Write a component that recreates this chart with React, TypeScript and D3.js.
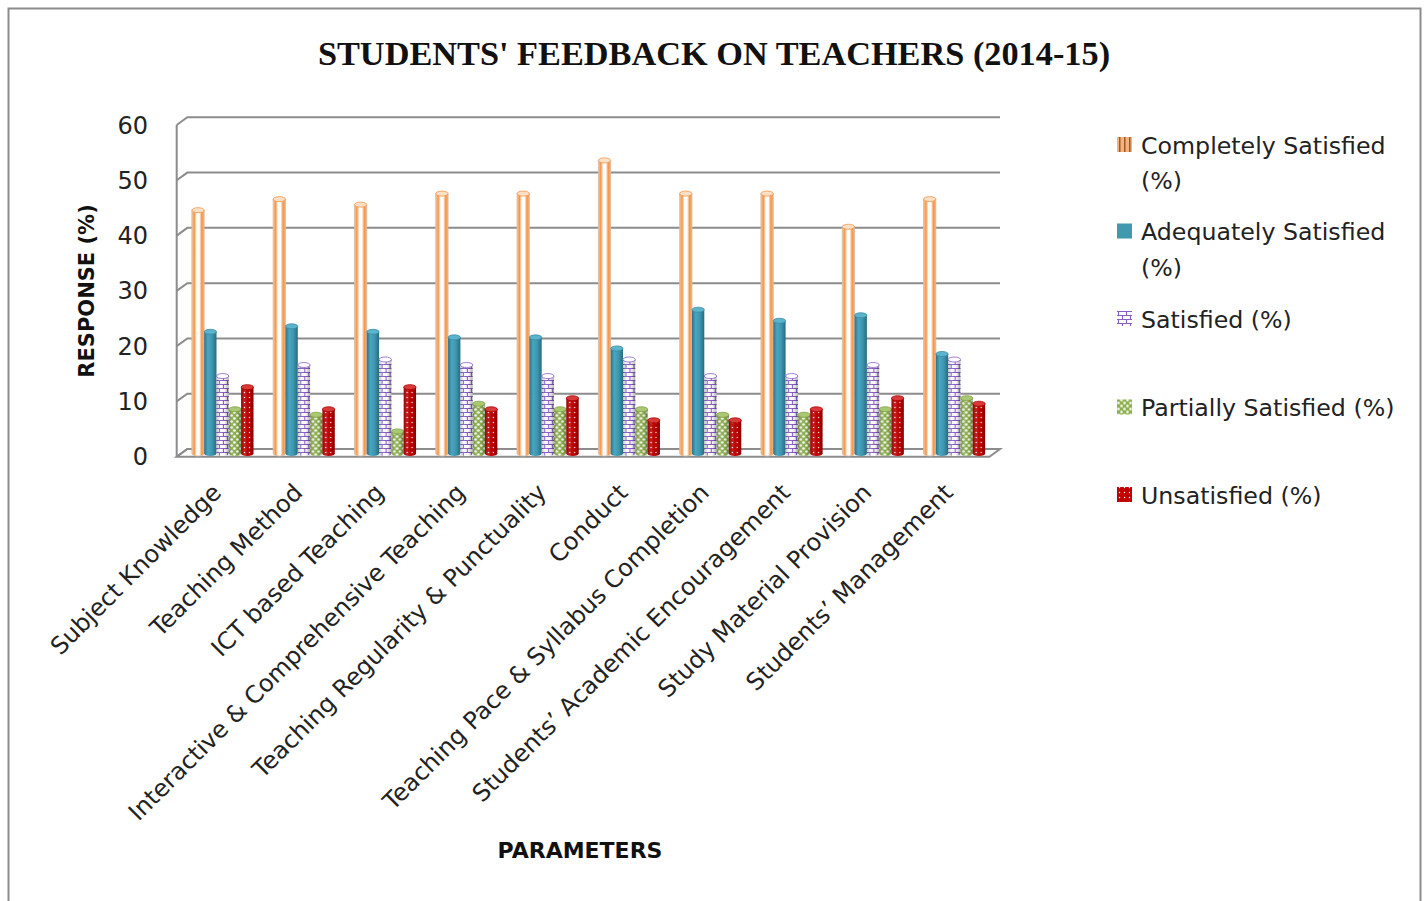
import React, { useEffect, useRef } from 'react';
import * as d3 from 'd3';

const categories = [
  'Subject Knowledge',
  'Teaching Method',
  'ICT based Teaching',
  'Interactive & Comprehensive Teaching',
  'Teaching Regularity & Punctuality',
  'Conduct',
  'Teaching Pace & Syllabus Completion',
  'Students’ Academic Encouragement',
  'Study Material Provision',
  'Students’ Management',
];

const seriesNames = [
  'Completely Satisfied (%)',
  'Adequately Satisfied (%)',
  'Satisfied (%)',
  'Partially Satisfied (%)',
  'Unsatisfied (%)',
];

const completely = [44, 46, 45, 47, 47, 53, 47, 47, 41, 46];
const adequately = [22, 23, 22, 21, 21, 19, 26, 24, 25, 18];
const satisfied = [14, 16, 17, 16, 14, 17, 14, 14, 16, 17];
const partially = [8, 7, 4, 9, 8, 8, 7, 7, 8, 10];
const unsatisfied = [12, 8, 12, 8, 10, 6, 6, 8, 10, 9];

const yTicks = [0, 10, 20, 30, 40, 50, 60];

// legend text split into lines, as in the reference
const legendLines = [
  ['Completely Satisfied', '(%)'],
  ['Adequately Satisfied', '(%)'],
  ['Satisfied (%)'],
  ['Partially Satisfied (%)'],
  ['Unsatisfied (%)'],
];

const App = () => {
  const ref = useRef<SVGSVGElement>(null);

  useEffect(() => {
    const svg = d3.select(ref.current);
    svg.selectAll('*').remove();

    const sans = 'DejaVu Sans, Open Sans, sans-serif';

    // 3D box geometry: front edge and back wall offset
    const depthX = 10.6;
    const depthY = 7.7;
    const frontLeft = 176.7;
    const backRight = 1000;

    const yBack = d3.scaleLinear().domain([0, 60]).range([449, 117.3]);
    const yBar = d3.scaleLinear().domain([0, 60]).range([453.5, 453.5 - 60 * 5.53]);

    const x0 = d3.scaleBand<string>().domain(categories).range([182, 995]);
    const x1 = d3
      .scaleBand<string>()
      .domain(seriesNames)
      .range([0, x0.bandwidth()])
      .paddingOuter(0.8);

    const values = [completely, adequately, satisfied, partially, unsatisfied];

    // ---- defs: gradients and patterns
    const defs = svg.append('defs');
    const grad = (id: string, stops: [number, string, number?][]) => {
      const g = defs.append('linearGradient').attr('id', id);
      stops.forEach(([o, c, a]) =>
        g
          .append('stop')
          .attr('offset', o)
          .attr('stop-color', c)
          .attr('stop-opacity', a === undefined ? 1 : a)
      );
    };
    grad('gOrange', [
      [0, '#f3c7a3'],
      [0.2, '#f79646'],
      [0.4, '#ffffff'],
      [0.6, '#ffffff'],
      [0.8, '#f79646'],
      [1, '#efb283'],
    ]);
    grad('gTeal', [
      [0, '#2b7288'],
      [0.3, '#4aa6c0'],
      [0.65, '#3e95ae'],
      [1, '#276a7e'],
    ]);
    grad('gShade', [
      [0, '#000', 0.25],
      [0.35, '#fff', 0.1],
      [0.6, '#000', 0],
      [1, '#000', 0.3],
    ]);

    const brick = defs
      .append('pattern')
      .attr('id', 'pBrick')
      .attr('patternUnits', 'userSpaceOnUse')
      .attr('width', 8)
      .attr('height', 8);
    brick.append('rect').attr('width', 8).attr('height', 8).attr('fill', '#fff');
    brick
      .append('path')
      .attr('d', 'M0,0.5H8M0,4.5H8M1.5,0.5V4.5M5.5,4.5V8.5')
      .attr('stroke', '#8a5cc8')
      .attr('stroke-width', 1.1)
      .attr('fill', 'none');

    const sphere = defs
      .append('pattern')
      .attr('id', 'pSphere')
      .attr('patternUnits', 'userSpaceOnUse')
      .attr('width', 6)
      .attr('height', 6);
    sphere.append('rect').attr('width', 6).attr('height', 6).attr('fill', '#8db04e');
    sphere.append('circle').attr('cx', 1.5).attr('cy', 1.5).attr('r', 1.3).attr('fill', '#fff');
    sphere.append('circle').attr('cx', 4.5).attr('cy', 4.5).attr('r', 1.3).attr('fill', '#fff');

    const dots = defs
      .append('pattern')
      .attr('id', 'pDots')
      .attr('patternUnits', 'userSpaceOnUse')
      .attr('width', 5)
      .attr('height', 5);
    dots.append('rect').attr('width', 5).attr('height', 5).attr('fill', '#c00000');
    dots.append('circle').attr('cx', 2.5).attr('cy', 2.5).attr('r', 0.75).attr('fill', '#fff');

    // legend icon for the orange series: darker vertical stripes
    const stripes = defs
      .append('pattern')
      .attr('id', 'pStripes')
      .attr('patternUnits', 'userSpaceOnUse')
      .attr('width', 5)
      .attr('height', 5);
    stripes.append('rect').attr('width', 5).attr('height', 5).attr('fill', '#f3b27e');
    stripes.append('rect').attr('x', 2).attr('width', 1.5).attr('height', 5).attr('fill', '#9c5a2a');

    const bodyFill = ['url(#gOrange)', 'url(#gTeal)', 'url(#pBrick)', 'url(#pSphere)', 'url(#pDots)'];
    const iconFill = ['url(#pStripes)', '#4198af', 'url(#pBrick)', 'url(#pSphere)', 'url(#pDots)'];
    const capFill = ['#fbe0c8', '#5cb3cc', '#ffffff', '#aac872', '#d83a3a'];
    const capStroke = ['#f79646', '#3a8ca4', '#8a5cc8', '#7fa040', '#b00000'];
    const shaded = [false, false, true, true, true];

    // ---- outer frame
    svg
      .append('rect')
      .attr('x', 8.5)
      .attr('y', 8.5)
      .attr('width', 1412)
      .attr('height', 905)
      .attr('fill', '#fff')
      .attr('stroke', '#8c8c8c')
      .attr('stroke-width', 2);

    // ---- title
    svg
      .append('text')
      .attr('x', 714)
      .attr('y', 65)
      .attr('text-anchor', 'middle')
      .attr('font-family', 'Liberation Serif, serif')
      .attr('font-weight', 'bold')
      .attr('font-size', 34.3)
      .attr('fill', '#111')
      .text("STUDENTS' FEEDBACK ON TEACHERS (2014-15)");

    // ---- floor
    const floorY = yBack(0);
    svg
      .append('path')
      .attr(
        'd',
        `M${frontLeft},${floorY + depthY} L${frontLeft + depthX},${floorY} L${backRight},${floorY} L${backRight - depthX},${floorY + depthY} Z`
      )
      .attr('fill', '#fff')
      .attr('stroke', '#8c8c8c')
      .attr('stroke-width', 2);

    // ---- grid lines on back wall with left-wall diagonals
    const grid = svg.append('g');
    yTicks.forEach((t) => {
      const y = yBack(t);
      grid
        .append('path')
        .attr('d', `M${frontLeft},${y + depthY} L${frontLeft + depthX},${y} L${backRight},${y}`)
        .attr('fill', 'none')
        .attr('stroke', '#8c8c8c')
        .attr('stroke-width', 2);
    });
    grid
      .append('line')
      .attr('x1', frontLeft)
      .attr('x2', frontLeft)
      .attr('y1', yBack(60) + depthY)
      .attr('y2', yBack(0) + depthY)
      .attr('stroke', '#8c8c8c')
      .attr('stroke-width', 2);

    // ---- y tick labels
    svg
      .append('g')
      .selectAll('text')
      .data(yTicks)
      .enter()
      .append('text')
      .attr('x', 148)
      .attr('y', (d) => yBack(d) + depthY)
      .attr('dy', '0.36em')
      .attr('text-anchor', 'end')
      .attr('font-family', sans)
      .attr('font-size', 24)
      .attr('fill', '#222')
      .text((d) => d);

    // ---- bars (cylinders)
    const rows = categories.map((c, ci) => ({ cat: c, vals: values.map((v) => v[ci]) }));
    const groups = svg
      .append('g')
      .selectAll('g')
      .data(rows)
      .enter()
      .append('g')
      .attr('transform', (d) => `translate(${x0(d.cat)},0)`);

    groups.each(function (row) {
      const g = d3.select(this);
      row.vals.forEach((v, i) => {
        const x = x1(seriesNames[i]) as number;
        const w = x1.bandwidth();
        const top = yBar(v);
        const base = yBar(0);
        const ry = 2.5;
        const body = `M${x},${top} V${base} A${w / 2},${ry} 0 0 0 ${x + w},${base} V${top} Z`;
        g.append('path')
          .attr('d', body)
          .attr('fill', bodyFill[i])
          .attr('stroke', i === 0 ? '#d9b89c' : 'none')
          .attr('stroke-width', 0.8);
        if (shaded[i]) {
          g.append('path').attr('d', body).attr('fill', 'url(#gShade)');
        }
        g.append('ellipse')
          .attr('cx', x + w / 2)
          .attr('cy', top)
          .attr('rx', w / 2)
          .attr('ry', ry)
          .attr('fill', capFill[i])
          .attr('stroke', capStroke[i])
          .attr('stroke-width', 0.8);
      });
    });

    // ---- x labels
    svg
      .append('g')
      .selectAll('text')
      .data(categories)
      .enter()
      .append('text')
      .attr(
        'transform',
        (d) => `translate(${(x0(d) as number) + x0.bandwidth() / 2},494) rotate(-45)`
      )
      .attr('text-anchor', 'end')
      .attr('font-family', sans)
      .attr('font-size', 24)
      .attr('fill', '#222')
      .text((d) => d);

    // ---- axis titles
    svg
      .append('text')
      .attr('transform', 'translate(94,291) rotate(-90)')
      .attr('text-anchor', 'middle')
      .attr('font-family', sans)
      .attr('font-weight', 'bold')
      .attr('font-size', 21)
      .attr('fill', '#111')
      .text('RESPONSE (%)');

    svg
      .append('text')
      .attr('x', 580)
      .attr('y', 858)
      .attr('text-anchor', 'middle')
      .attr('font-family', sans)
      .attr('font-weight', 'bold')
      .attr('font-size', 22)
      .attr('fill', '#111')
      .text('PARAMETERS');

    // ---- legend
    const legendY = [145, 231.5, 319, 407.5, 495];
    const legend = svg
      .append('g')
      .selectAll('g')
      .data(seriesNames)
      .enter()
      .append('g')
      .attr('transform', (d, i) => `translate(1117,${legendY[i]})`);

    legend
      .append('rect')
      .attr('x', 0)
      .attr('y', -8)
      .attr('width', 15)
      .attr('height', 15)
      .attr('fill', (d, i) => iconFill[i]);

    legend
      .append('text')
      .attr('x', 24)
      .attr('y', 0)
      .attr('font-family', sans)
      .attr('font-size', 23.7)
      .attr('fill', '#222')
      .each(function (d, i) {
        const t = d3.select(this);
        legendLines[i].forEach((line, li) => {
          t.append('tspan')
            .attr('x', 24)
            .attr('dy', li === 0 ? '0.36em' : 35.5)
            .text(line);
        });
      });

    return () => {
      svg.selectAll('*').remove();
    };
  }, []);

  return (
    <svg
      ref={ref}
      width={1427}
      height={901}
      style={{ position: 'absolute', left: 0, top: 0, display: 'block' }}
    />
  );
};

export default App;
